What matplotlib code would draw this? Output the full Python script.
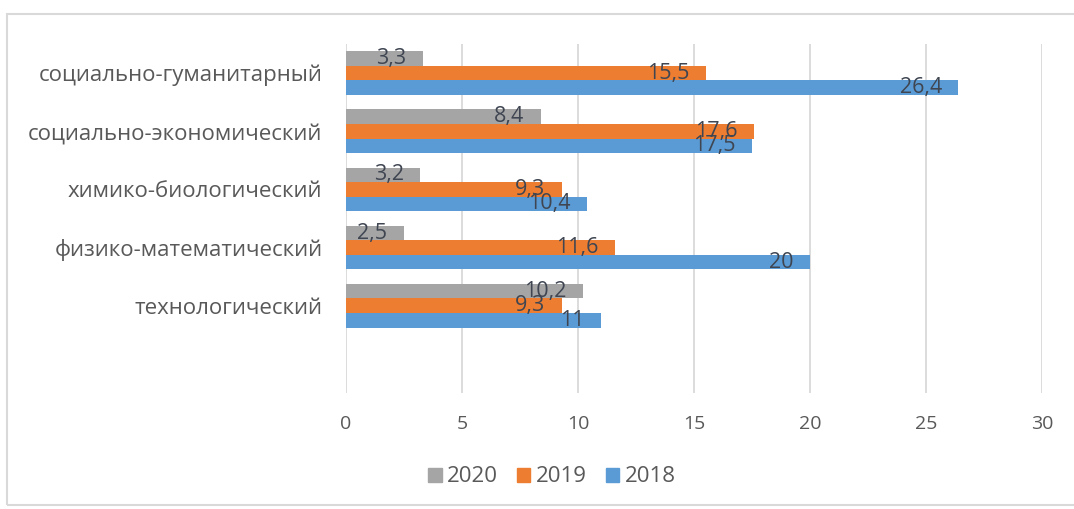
import matplotlib
matplotlib.use("Agg")
import matplotlib.pyplot as plt
import matplotlib.patches as mpatches
import numpy as np

# categories listed bottom to top; the bottom slot is left empty like in the source chart
categories = ["", "технологический", "физико-математический", "химико-биологический",
              "социально-экономический", "социально-гуманитарный"]
vals_2018 = [None, 11, 20, 10.4, 17.5, 26.4]
vals_2019 = [None, 9.3, 11.6, 9.3, 17.6, 15.5]
vals_2020 = [None, 10.2, 2.5, 3.2, 8.4, 3.3]
x_ticks = [0, 5, 10, 15, 20, 25, 30]

series = [
    ("2018", vals_2018, "#5B9BD5", -0.25),
    ("2019", vals_2019, "#ED7D31", 0.0),
    ("2020", vals_2020, "#A5A5A5", 0.25),
]

plt.rcParams["font.family"] = ["Open Sans", "DejaVu Sans"]

fig = plt.figure(figsize=(10.74, 5.09), dpi=100)
# light outer frame of the chart area
fig.patches.append(mpatches.Rectangle((7 / 1074, 4 / 509), 1080 / 1074, 491 / 509,
                                      transform=fig.transFigure, fill=False,
                                      edgecolor="#D9D9D9", linewidth=1.5))
ax = fig.add_axes([346 / 1074, 1 - 393 / 509, 696 / 1074, 349 / 509])

ypos = np.arange(len(categories))
bar_h = 0.25
for name, vals, color, off in series:
    for y, v in zip(ypos, vals):
        if v is None:
            continue
        ax.barh(y + off, v, height=bar_h, color=color, zorder=2)
        ax.annotate(f"{v:g}".replace(".", ","), xy=(v, y + off), xytext=(-12, 0),
                    textcoords="offset points", ha="right", va="center",
                    fontsize=15.5, color="#3F4652", zorder=3)

ax.set_xlim(0, 30)
ax.set_ylim(-0.5, len(categories) - 0.5)
ax.set_xticks(x_ticks)
ax.set_yticks(ypos[1:])
ax.set_yticklabels(categories[1:], fontsize=16, color="#595959")
ax.tick_params(axis="x", labelsize=14, labelcolor="#595959", length=0, pad=16)
ax.tick_params(axis="y", length=0, pad=17)
ax.grid(axis="x", color="#D9D9D9", linewidth=1.3, zorder=0)
for s in ax.spines.values():
    s.set_visible(False)

handles = [mpatches.Patch(color=c, label=n) for n, _, c, _ in series[::-1]]
fig.legend(handles=handles, loc="center", bbox_to_anchor=(552 / 1074, 1 - 477 / 509),
           ncol=3, frameon=False, fontsize=16, handlelength=0.6, handleheight=0.6,
           handletextpad=0.25, columnspacing=0.85, labelcolor="#595959")

fig.savefig("out.png", dpi=100)
